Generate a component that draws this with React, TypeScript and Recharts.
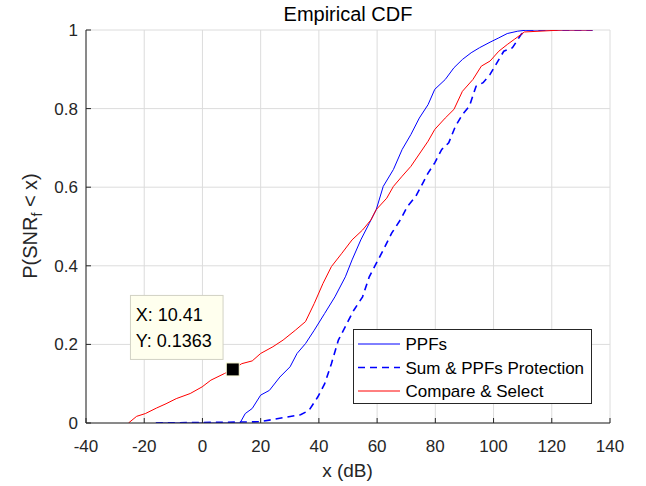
import React from "react"
import {
  CartesianGrid,
  Line,
  LineChart,
  ReferenceDot,
  XAxis,
  YAxis,
} from "recharts"

// x ticks / y ticks
const xTicks = [-40, -20, 0, 20, 40, 60, 80, 100, 120, 140]
const yTicks = [0, 0.2, 0.4, 0.6, 0.8, 1]

// PPFs
const ppfX = [-16, 12.9, 14.7, 17.1, 20, 23, 26.6, 30.1, 32.5, 35.4, 38.4, 42, 45.5, 49.1, 51.4, 54.4, 57.3, 59.7, 62.1, 65.6, 68.6, 71.6, 74.5, 77.5, 79.8, 83.4, 86.4, 89.3, 92.3, 95.2, 98.8, 101.8, 104.7, 108.3, 111.8, 134]
const ppfY = [0, 0, 0.024, 0.037, 0.071, 0.083, 0.117, 0.143, 0.177, 0.202, 0.236, 0.279, 0.321, 0.372, 0.415, 0.466, 0.508, 0.543, 0.602, 0.645, 0.696, 0.734, 0.776, 0.81, 0.849, 0.874, 0.904, 0.925, 0.942, 0.955, 0.969, 0.98, 0.991, 0.997, 1, 1]

// Sum & PPFs Protection
const sumX = [-16, 19.5, 24.2, 28.9, 33.7, 36.6, 39.6, 42, 44.3, 46.7, 49.6, 52, 55, 57.3, 59.7, 62.1, 65, 68, 70.4, 73.3, 75.1, 77.5, 79.8, 82.2, 84.6, 86.9, 89.3, 91.7, 94, 96.4, 98.8, 101.2, 103.5, 106.5, 109.5, 111.2, 134]
const sumY = [0, 0.003, 0.009, 0.015, 0.021, 0.032, 0.066, 0.1, 0.151, 0.211, 0.253, 0.287, 0.321, 0.372, 0.406, 0.44, 0.483, 0.517, 0.551, 0.577, 0.602, 0.636, 0.662, 0.696, 0.713, 0.755, 0.785, 0.806, 0.857, 0.866, 0.887, 0.917, 0.946, 0.955, 0.989, 1, 1]

// Compare & Select
const csX = [-25.4, -22.6, -19.6, -15.8, -12.5, -9, -4.2, -0.1, 2.9, 7.6, 10.41, 13.5, 17.1, 20, 24.2, 27.7, 31.9, 35.4, 38.4, 41.4, 44.3, 47.9, 51.4, 55, 57.9, 59.7, 63.3, 65.6, 68.6, 71.6, 77.5, 79.8, 83.4, 86.4, 89.3, 92.9, 95.8, 98.8, 101.8, 104.7, 107.1, 110.6, 123.7, 134]
const csY = [0, 0.017, 0.024, 0.038, 0.049, 0.062, 0.075, 0.092, 0.109, 0.126, 0.1363, 0.151, 0.158, 0.177, 0.194, 0.211, 0.236, 0.258, 0.304, 0.355, 0.398, 0.432, 0.466, 0.491, 0.517, 0.543, 0.572, 0.602, 0.628, 0.653, 0.717, 0.747, 0.776, 0.798, 0.844, 0.874, 0.908, 0.921, 0.946, 0.963, 0.976, 0.995, 1, 1]

const tipX = 10.41
const tipY = 0.1363

const toRows = (xs: number[], ys: number[]) => xs.map((x, i) => ({ x, y: ys[i] }))

const ppfData = toRows(ppfX, ppfY)
const sumData = toRows(sumX, sumY)
const csData = toRows(csX, csY)

const font = "'Liberation Sans', Arial, Helvetica, sans-serif"
const ink = "#262626"

const XTick = (props: any) => {
  const { x, y, payload } = props
  return (
    <g>
      <line x1={x} x2={x} y1={y - 8} y2={y - 13} stroke={ink} />
      <text x={x} y={y + 21} textAnchor="middle" fontSize={17} fill={ink} fontFamily={font}>
        {payload.value}
      </text>
    </g>
  )
}

const YTick = (props: any) => {
  const { x, y, payload } = props
  return (
    <g>
      <line x1={x + 8} x2={x + 13} y1={y} y2={y} stroke={ink} />
      <text x={x} y={y + 6} textAnchor="end" fontSize={17} fill={ink} fontFamily={font}>
        {payload.value}
      </text>
    </g>
  )
}

const legendItems = [
  { name: "PPFs", color: "#0000ff", dash: undefined as string | undefined, width: 1 },
  { name: "Sum & PPFs Protection", color: "#0000ff", dash: "7 5", width: 1.6 },
  { name: "Compare & Select", color: "#ff0000", dash: undefined as string | undefined, width: 1 },
]

// legend box, drawn in plot pixels (top-left at 353, 329)
const LegendBox = () => (
  <g transform="translate(353,329)" fontFamily={font}>
    <rect x={0.5} y={0.5} width={238} height={74} fill="#fff" stroke={ink} />
    {legendItems.map((it, i) => {
      const cy = 15 + i * 23.5
      return (
        <g key={it.name}>
          <line x1={5} x2={47} y1={cy} y2={cy} stroke={it.color} strokeWidth={it.width} strokeDasharray={it.dash} />
          <text x={52.5} y={cy + 6} fontSize={17} fill="#000">
            {it.name}
          </text>
        </g>
      )
    })}
  </g>
)

const DataTip = (props: any) => {
  const { cx, cy } = props
  const bx = cx - 102.3
  const by = cy - 74
  return (
    <g>
      <rect x={bx} y={by} width={92.6} height={64} fill="#ffffee" stroke="#d2d2c4" />
      <text x={bx + 5.3} y={by + 25.7} fontSize={18} fill="#000" fontFamily={font}>
        X: 10.41
      </text>
      <text x={bx + 5.3} y={by + 52} fontSize={18} fill="#000" fontFamily={font}>
        Y: 0.1363
      </text>
      <rect x={cx - 6.5} y={cy - 6.5} width={13} height={13} fill="#000" stroke="#ffffd8" />
    </g>
  )
}

export default function App() {
  return (
    <div style={{ position: "absolute", left: 0, top: 0, width: 646, height: 486, background: "#fff", fontFamily: font }}>
      <LineChart width={646} height={486} margin={{ top: 30, right: 36, bottom: 0, left: 0 }}>
        <CartesianGrid stroke="#dcdcdc" strokeWidth={1} />
        <XAxis
          type="number"
          dataKey="x"
          domain={[-40, 140]}
          ticks={xTicks}
          interval={0}
          height={63}
          tickSize={0}
          tickMargin={8}
          tick={<XTick />}
          axisLine={{ stroke: ink }}
          tickLine={false}
          allowDataOverflow
          label={{
            content: () => (
              <g fontFamily={font} fill={ink}>
                <text x={348} y={21} textAnchor="middle" fontSize={20} fill="#000">
                  Empirical CDF
                </text>
                <text x={347.5} y={477} textAnchor="middle" fontSize={19}>
                  x (dB)
                </text>
              </g>
            ),
          }}
        />
        <YAxis
          type="number"
          dataKey="y"
          domain={[0, 1]}
          ticks={yTicks}
          interval={0}
          width={86}
          tickSize={0}
          tickMargin={8}
          tick={<YTick />}
          axisLine={{ stroke: ink }}
          tickLine={false}
          allowDataOverflow
          label={{
            content: () => (
              <text transform="translate(37,226) rotate(-90)" textAnchor="middle" fontSize={20} fill={ink} fontFamily={font}>
                P(SNR
                <tspan dy={5} fontSize={14}>f</tspan>
                <tspan dy={-5}> &lt; x)</tspan>
              </text>
            ),
          }}
        />
        <Line data={ppfData} dataKey="y" name="PPFs" type="linear" stroke="#0000ff" strokeWidth={1} dot={false} isAnimationActive={false} />
        <Line data={sumData} dataKey="y" name="Sum & PPFs Protection" type="linear" stroke="#0000ff" strokeWidth={1.6} strokeDasharray="7 5" dot={false} isAnimationActive={false} />
        <Line data={csData} dataKey="y" name="Compare & Select" type="linear" stroke="#ff0000" strokeWidth={1} dot={false} isAnimationActive={false} />
        <ReferenceDot x={tipX} y={tipY} r={6} ifOverflow="visible" shape={<DataTip />} />
        <ReferenceDot x={0} y={0} r={0} ifOverflow="visible" shape={<LegendBox />} />
      </LineChart>
    </div>
  )
}
